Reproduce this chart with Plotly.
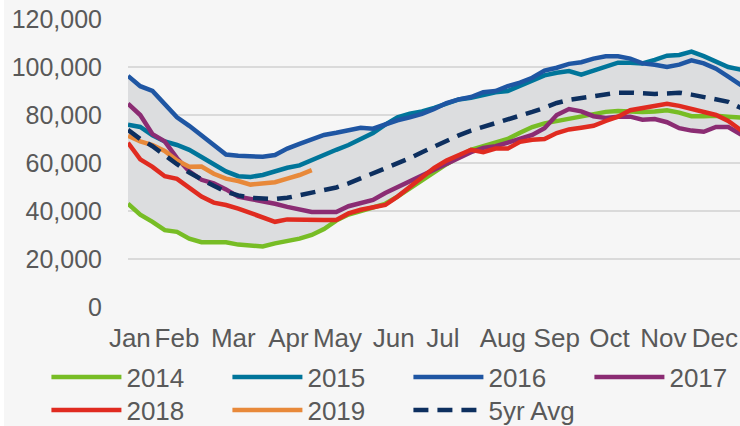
import plotly.graph_objects as go
import numpy as np

# weekly values (thousands), week 0 = first week of Jan
weeks = list(range(52))

y2014 = [43, 38.5, 35.5, 32, 31.3, 28.5, 27, 26.8, 27, 26, 25.5, 25.2, 26.5, 27.5, 28.5, 30,
         32.5, 36, 38.5, 40, 41.5, 43, 46, 49.5, 53, 56, 59.5, 62.5, 65.5, 67, 68.4, 70,
         72.6, 75, 76.5, 77.5, 78.5, 79.3, 80.5, 81.3, 81.7, 81.3, 81.3, 81.5, 82, 81, 79.5, 79.5,
         79.7, 79.3, 78.8, 78.5]
y2015 = [75.9, 75, 71.5, 69, 67.5, 65.5, 62.5, 59.6, 56.5, 54.5, 54.2, 55, 56.5, 58, 59, 61.3,
         63.5, 65.5, 67.5, 70, 72.5, 76, 79, 80.5, 81.5, 83, 85, 86.5, 87.2, 88.5, 89.5, 90,
         92, 94.5, 96.5, 97.6, 98.3, 96.8, 98.5, 100, 101.8, 101.8, 101.5, 103, 104.7, 105, 106.4, 104.5,
         102, 100, 98.9, 98]
y2016 = [96.3, 92, 90, 84.5, 79, 75.5, 71.5, 67.5, 63.5, 63, 62.8, 62.6, 63.3, 66, 68, 70,
         71.7, 72.6, 73.7, 74.7, 74.3, 76, 77.8, 79, 80.5, 82.5, 85, 86.5, 87.5, 89.5, 90, 92,
         93.5, 95.5, 98.5, 99.7, 101.3, 102, 103.5, 104.5, 104.5, 103.5, 101.5, 100.9, 100, 101, 102.8, 101.5,
         99.3, 96, 92.6, 90]
y2017 = [84.7, 80, 72, 69, 62, 56.5, 53, 51.5, 49, 46, 45, 44.2, 43, 41.7, 40.5, 39.6,
         39.6, 39.6, 42, 43.5, 44.6, 47.5, 50, 52.5, 55, 57.5, 59.5, 62.5, 64.5, 66.3, 67, 68.5,
         70, 71.7, 74.5, 80, 82.5, 81.5, 79.5, 78.8, 79.3, 79.3, 78, 78.3, 77, 74.5, 73.5, 73,
         75, 75, 72, 70]
y2018 = [68.4, 61.5, 58.4, 54.5, 53.4, 49.5, 46, 43.5, 42.5, 41, 39, 37.1, 35.5, 36.5, 36.3, 36.3,
         36.3, 36.3, 39, 40.5, 41.5, 42.5, 46, 50, 54, 58, 61, 63, 65.5, 64.5, 66, 66,
         68.8, 69.7, 70, 72.5, 74, 74.7, 75.5, 77.5, 79.3, 82, 82.8, 83.5, 84.7, 83.8, 82.5, 81.5,
         80, 77.5, 73.8, 71]
y2019 = [71.3, 69, 67.5, 65, 61, 58.4, 58.5, 55.5, 53.5, 52.5, 51, 51.5, 52, 53.5, 55, 57]
avg5 = [73.8, 70, 67, 63, 59.5, 56, 53, 50.5, 48, 46.5, 45.5, 45.3, 45, 45.5, 46.5, 47.5,
        48.5, 49.8, 51.5, 53.5, 55.5, 57.5, 59.5, 62, 64.5, 67, 69.5, 71.5, 73.5, 75, 76.5, 78,
        79.5, 81.3, 83, 85, 86.3, 87, 87.6, 88.5, 89.3, 89.3, 89, 88.8, 89, 89.3, 88.5, 87.6,
        86.5, 85.5, 83, 81]

months = ["Jan", "Feb", "Mar", "Apr", "May", "Jun", "Jul", "Aug", "Sep", "Oct", "Nov", "Dec"]
month_weeks = [0.15, 4.0, 8.6, 13.1, 17.1, 21.7, 25.7, 30.6, 35.0, 39.3, 43.7, 47.9]

years = ["2014", "2015", "2016", "2017", "2018", "2019"]
colors = ["#77BD25", "#00759A", "#1F56A3", "#8B2C73", "#E02B20", "#E8893A"]
series = [y2014, y2015, y2016, y2017, y2018, y2019]

grey = "#595959"
font = "Liberation Sans, Arial, sans-serif"

hist = np.array([y2014, y2015, y2016, y2017, y2018]) * 1000
band_hi = hist.max(axis=0)
band_lo = hist.min(axis=0)

fig = go.Figure()
fig.add_trace(go.Scatter(x=weeks, y=band_hi, mode="lines", line=dict(width=0),
                         showlegend=False, hoverinfo="skip"))
fig.add_trace(go.Scatter(x=weeks, y=band_lo, mode="lines", line=dict(width=0),
                         fill="tonexty", fillcolor="#DCDDDF",
                         showlegend=False, hoverinfo="skip"))

# first row of the legend: 2014-2017, second row: 2018, 2019, 5yr Avg
for i, (name, vals, col) in enumerate(zip(years, series, colors)):
    fig.add_trace(go.Scatter(x=weeks[:len(vals)], y=np.array(vals) * 1000, name=name,
                             mode="lines", line=dict(color=col, width=4.5),
                             legend="legend" if i < 4 else "legend2"))

fig.add_trace(go.Scatter(x=weeks, y=np.array(avg5) * 1000, name="5yr Avg", mode="lines",
                         line=dict(color="#0D2F5F", width=4.5, dash="15px,9px"),
                         legend="legend2"))

leg = dict(orientation="h", xanchor="left", yanchor="top", x=-0.1333,
           itemwidth=70, entrywidth=96, traceorder="normal",
           font=dict(size=26, color=grey), bgcolor="rgba(0,0,0,0)", tracegroupgap=0)

fig.update_layout(
    width=740, height=426,
    margin=dict(l=128, r=0, t=19, b=119, autoexpand=False),
    paper_bgcolor="#F6F6F6",
    plot_bgcolor="#F6F6F6",
    font=dict(family=font, size=26, color=grey),
    legend=dict(leg, y=-0.162),
    legend2=dict(leg, y=-0.2767),
    xaxis=dict(range=[0, 49.96], tickvals=month_weeks, ticktext=months,
               showgrid=False, zeroline=False, showline=False, ticks="", automargin=False,
               ticklabelstandoff=13, tickfont=dict(size=26, color=grey)),
    yaxis=dict(range=[0, 120000], tickvals=[0, 20000, 40000, 60000, 80000, 100000, 120000],
               tickformat=",", showgrid=True, gridcolor="#DADADA", gridwidth=1.5,
               zeroline=False, showline=False, ticks="", ticklabelstandoff=25, automargin=False,
               tickfont=dict(size=25, color=grey)),
    shapes=[dict(type="rect", xref="paper", yref="paper", x0=-128 / 612, x1=-124 / 612,
                 y0=-119 / 287.7, y1=1 + 19 / 287.7, fillcolor="white", line=dict(width=0),
                 layer="below")],
    showlegend=True,
)

fig.write_html("out.html", config={"displayModeBar": False},
               post_script="document.body.style.margin='0';")
